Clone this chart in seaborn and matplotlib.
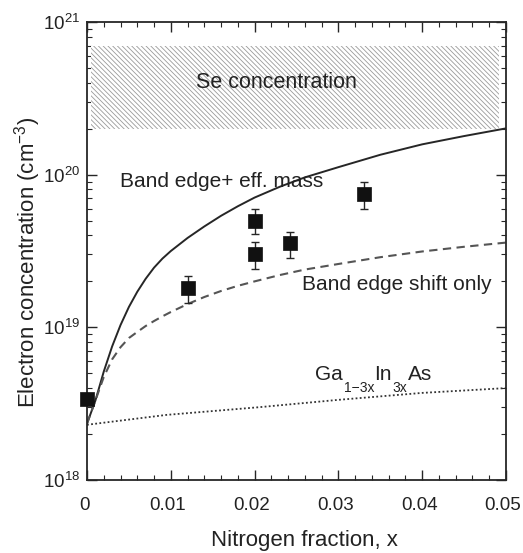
import numpy as np
import pandas as pd
import matplotlib
matplotlib.use("Agg")
import matplotlib.pyplot as plt
import matplotlib.transforms as mtransforms
import seaborn as sns
from matplotlib.ticker import LogLocator, MultipleLocator, NullFormatter

# Measured electron concentrations (cm^-3) vs nitrogen fraction
meas_x = [0.0, 0.012, 0.020, 0.020, 0.0242, 0.033]
meas_n = [3.4e18, 1.81e19, 4.98e19, 3.04e19, 3.57e19, 7.5e19]
meas_lo = [3.4e18, 1.44e19, 4.1e19, 2.41e19, 2.85e19, 5.96e19]
meas_hi = [3.4e18, 2.17e19, 5.96e19, 3.62e19, 4.22e19, 8.96e19]

# Model: band edge shift + effective mass change
full_x = [0.0, 0.001, 0.002, 0.003, 0.004, 0.005, 0.006, 0.007, 0.008, 0.009,
          0.010, 0.012, 0.014, 0.016, 0.018, 0.020, 0.023, 0.026, 0.030,
          0.035, 0.040, 0.045, 0.050]
full_n = [2.34e18, 3.31e18, 5.13e18, 7.5e18, 1.035e19, 1.36e19, 1.71e19,
          2.08e19, 2.46e19, 2.82e19, 3.16e19, 3.85e19, 4.58e19, 5.38e19,
          6.21e19, 7.08e19, 8.33e19, 9.6e19, 1.12e20, 1.35e20, 1.58e20,
          1.79e20, 2.01e20]

# Model: band edge shift only
shift_x = [0.0, 0.001, 0.002, 0.003, 0.004, 0.005, 0.006, 0.007, 0.008, 0.009,
           0.010, 0.012, 0.014, 0.016, 0.018, 0.020, 0.023, 0.026, 0.030,
           0.035, 0.040, 0.045, 0.050]
shift_n = [2.34e18, 3.31e18, 4.73e18, 6.17e18, 7.41e18, 8.51e18, 9.33e18,
           1.02e19, 1.10e19, 1.18e19, 1.26e19, 1.42e19, 1.58e19, 1.73e19,
           1.87e19, 2.00e19, 2.20e19, 2.39e19, 2.60e19, 2.88e19, 3.14e19,
           3.37e19, 3.59e19]

# Reference alloy without nitrogen
gain_x = [0.0, 0.0095, 0.0206, 0.030, 0.040, 0.050]
gain_n = [2.3e18, 2.67e18, 3.0e18, 3.35e18, 3.72e18, 4.0e18]

# Se doping range
se_x = [0.0005, 0.0492]
se_lo, se_hi = 2e20, 7e20

sns.set_theme(style="ticks")
plt.rcParams["font.family"] = ["Liberation Sans", "DejaVu Sans"]
plt.rcParams["mathtext.fontset"] = "custom"
plt.rcParams["mathtext.rm"] = "Liberation Sans"
plt.rcParams["hatch.linewidth"] = 0.6
plt.rcParams["hatch.color"] = "#9a9a9a"

ink = "#262626"
txt = "#222222"
fig = plt.figure(figsize=(5.23, 5.53), dpi=100)
ax = fig.add_axes([87 / 523, 1 - 480 / 553, 419 / 523, 458 / 553])
ax.set_yscale("log")

ax.fill_between(se_x, se_lo, se_hi, facecolor="white", edgecolor="#9a9a9a",
                hatch="\\\\\\\\\\\\\\", linewidth=0, zorder=1)

df_full = pd.DataFrame({"x": full_x, "n": full_n})
df_shift = pd.DataFrame({"x": shift_x, "n": shift_n})
df_gain = pd.DataFrame({"x": gain_x, "n": gain_n})

sns.lineplot(data=df_full, x="x", y="n", ax=ax, color=ink, lw=1.4, sort=False)
sns.lineplot(data=df_shift, x="x", y="n", ax=ax, color="#555555", lw=1.5,
             sort=False, linestyle=(0, (4, 2.6)))
sns.lineplot(data=df_gain, x="x", y="n", ax=ax, color="#333333", lw=1.3,
             sort=False, linestyle=(0, (1, 1.3)))

meas_n_arr = np.array(meas_n)
yerr = [meas_n_arr - np.array(meas_lo), np.array(meas_hi) - meas_n_arr]
ax.errorbar(meas_x, meas_n, yerr=yerr, fmt="none", ecolor=ink, elinewidth=1.0,
            capsize=3.2, capthick=1.0, zorder=4)
sns.scatterplot(x=meas_x, y=meas_n, ax=ax, marker="s", s=105, color="#111111",
                edgecolor="#111111", linewidth=0.5, zorder=5, clip_on=False)

ax.set_xlim(0, 0.05)
ax.set_ylim(1e18, 1e21)
ax.xaxis.set_minor_locator(MultipleLocator(0.002))
ax.set_xticks([0, 0.01, 0.02, 0.03, 0.04, 0.05])
ax.set_xticklabels(["0", "0.01", "0.02", "0.03", "0.04", "0.05"])
ax.yaxis.set_major_locator(LogLocator(base=10, numticks=10))
ax.yaxis.set_minor_locator(LogLocator(base=10, subs=np.arange(2, 10), numticks=10))
ax.yaxis.set_minor_formatter(NullFormatter())

ax.tick_params(which="both", direction="in", top=True, right=True,
               colors=ink, labelcolor=txt)
ax.tick_params(which="major", length=7, width=1.0, labelsize=13.5)
ax.tick_params(axis="x", which="major", pad=12)
ax.tick_params(axis="y", which="major", pad=5)
ax.tick_params(which="minor", length=3.5, width=0.8)
for s in ax.spines.values():
    s.set_linewidth(1.3)
    s.set_color(ink)

# nudge the x tick labels slightly to the left
shift = mtransforms.ScaledTranslation(-3 / 100, 0, fig.dpi_scale_trans)
for lab in ax.get_xticklabels():
    lab.set_transform(lab.get_transform() + shift)

ax.set_xlabel("Nitrogen fraction, x", fontsize=16, color=txt)
ax.xaxis.set_label_coords(0.518, -0.11)
ax.set_ylabel(r"Electron concentration (cm$^{\mathregular{-3}}$)", fontsize=16,
              color=txt)
ax.yaxis.set_label_coords(-0.104, 0.475)

ax.text(0.0226, 4.0e20, "Se concentration", fontsize=15.5, ha="center",
        va="center", color=txt, zorder=3)
ax.text(0.0039, 8.96e19, "Band edge+ eff. mass", fontsize=15, ha="left",
        va="center", color=txt)
ax.text(0.02565, 1.9e19, "Band edge shift only", fontsize=15, ha="left",
        va="center", color=txt)

# Alloy label built piece by piece so the subscripts sit well below the baseline
chem_y = 4.53e18
pieces = [("Ga", 15, 0), ("1\u22123x", 10, -8.5), ("In", 15, 0),
          ("3x", 10, -8.5), ("As", 15, 0)]
prev = ax.text(0.02725, chem_y, pieces[0][0], fontsize=pieces[0][1],
               ha="left", va="baseline", color=txt)
for s_, fs, dy in pieces[1:]:
    prev = ax.annotate(s_, xy=(1, chem_y), xycoords=(prev, "data"),
                       xytext=(0.3, dy), textcoords="offset points",
                       fontsize=fs, ha="left", va="baseline", color=txt)

fig.savefig("out.png", dpi=100)
